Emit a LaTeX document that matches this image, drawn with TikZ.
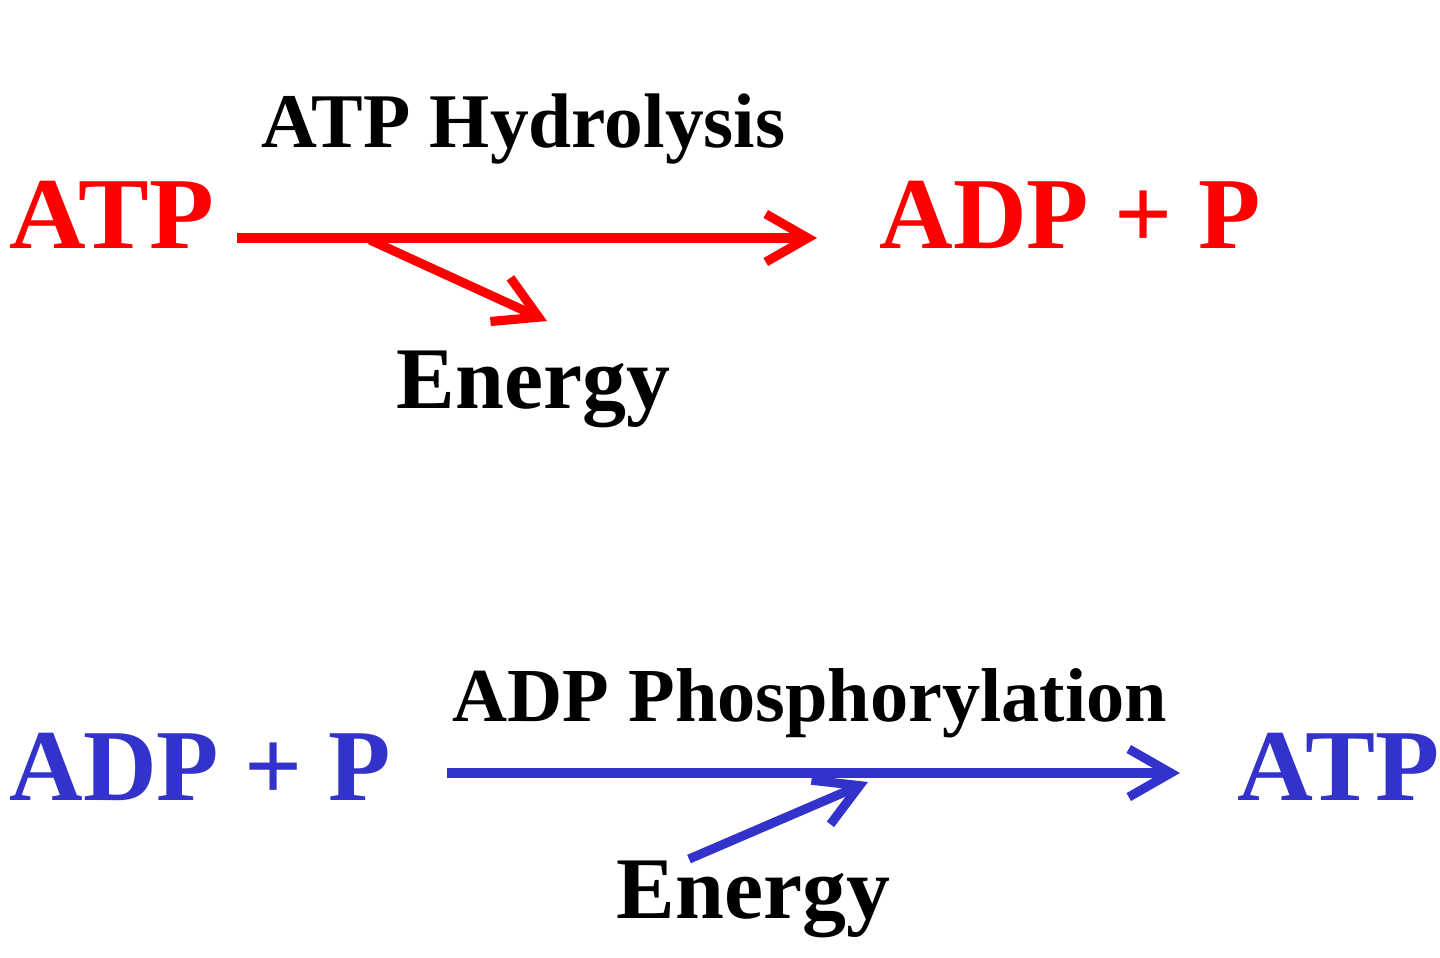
\documentclass[tikz,border=0pt]{standalone}
\usepackage{fontspec}
\setmainfont{Liberation Serif}
\usetikzlibrary{arrows.meta}
\definecolor{rxn}{RGB}{255,0,0}
\definecolor{bxn}{RGB}{51,51,204}
\tikzset{
  big/.style={anchor=base west,inner sep=0pt,font=\fontsize{29pt}{31pt}\selectfont\bfseries},
  lab/.style={anchor=base west,inner sep=0pt,font=\fontsize{22pt}{24pt}\selectfont\bfseries},
  enlab/.style={anchor=base west,inner sep=0pt,font=\fontsize{25pt}{27pt}\selectfont\bfseries},
  rxarrow/.style={line width=2.6pt,-{Straight Barb[length=4.2mm,width=4.8mm]}},
}
\begin{document}
\begin{tikzpicture}[x=0.01cm,y=-0.01cm]
\useasboundingbox[fill=white] (0,0) rectangle (1440,957);
% Hydrolysis
\node[big,text=rxn,xscale=1.04] (atp1) at (9,248) {ATP};
\node[big,text=rxn] (adp1) at (879,248) {ADP + P};
\node[lab] (hyd) at (261,147) {ATP Hydrolysis};
\node[enlab] (en1) at (396,408) {Energy};
\coordinate (r1) at (237,238);
\coordinate (r2) at (817,238);
\coordinate (rb) at (370,240);
\coordinate (rt) at (547,321);
\draw[rxarrow,draw=rxn] (r1) -- (r2);
\draw[rxarrow,draw=rxn] (rb) -- (rt);
% Phosphorylation
\node[big,text=bxn] (adp2) at (9,800) {ADP + P};
\node[big,text=bxn,xscale=1.03] (atp2) at (1237,800) {ATP};
\node[lab,font=\fontsize{21.7pt}{24pt}\selectfont\bfseries] (pho) at (452,721) {ADP Phosphorylation};
\node[enlab] (en2) at (616,918) {Energy};
\coordinate (b1) at (447,773);
\coordinate (b2) at (1180,773);
\coordinate (bb) at (689,859);
\coordinate (bt) at (868,782);
\draw[rxarrow,draw=bxn] (b1) -- (b2);
\draw[rxarrow,draw=bxn] (bb) -- (bt);
\end{tikzpicture}
\end{document}
